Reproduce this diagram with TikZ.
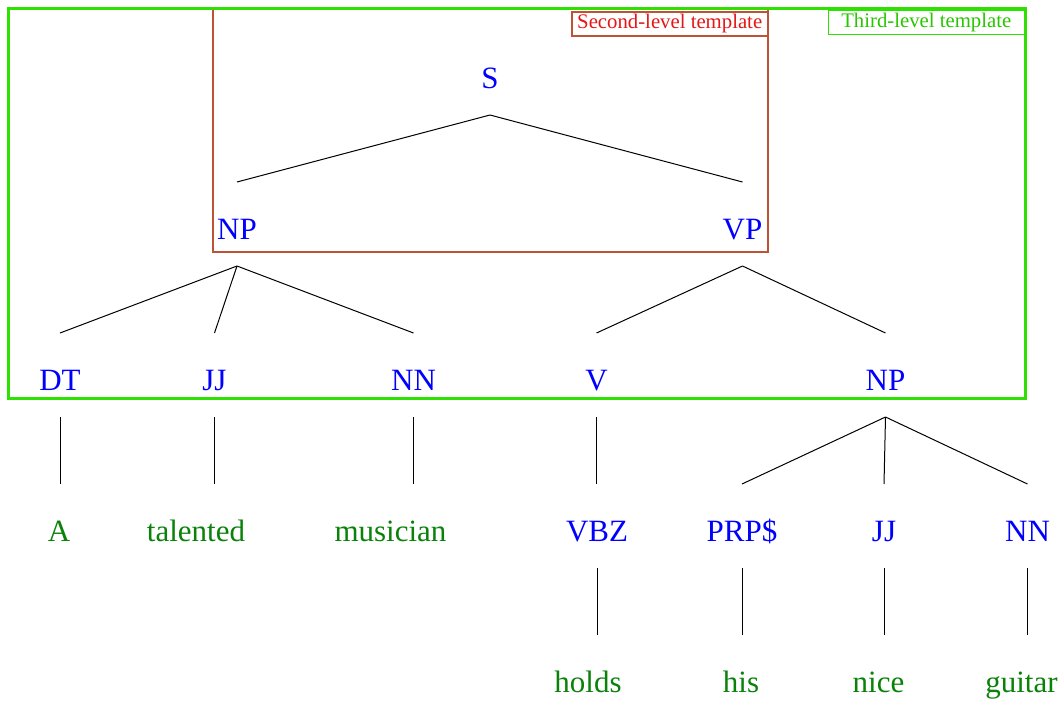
\documentclass[tikz,border=0pt]{standalone}
\usepackage{fontspec}
\setmainfont{Liberation Serif}
\usepackage{tikz}

\definecolor{tagblue}{RGB}{0,0,255}
\definecolor{wordgreen}{RGB}{10,130,10}
\definecolor{boxred}{RGB}{190,82,52}
\definecolor{labelred}{RGB}{228,22,22}
\definecolor{boxgreen}{RGB}{45,225,0}

\begin{document}
\begin{tikzpicture} [x=1pt,y=-1pt,
			tag/.style={text=tagblue,font=\fontsize{31}{36}\selectfont,anchor=base,inner sep=0pt,outer sep=0pt,text height=57pt,text depth=27pt},
			word/.style={tag,text=wordgreen},
			branch/.style={black,line width=1pt},
			label/.style={font=\fontsize{20.75}{24}\selectfont,minimum width=196pt,minimum height=24pt,inner sep=0pt,anchor=north east,line width=1.5pt}]
			\useasboundingbox (0,0) rectangle (1064,702);
			
			% templates
			\draw[boxred,line width=2pt] (212.5,9) rectangle (768,251.5);
			\draw[boxgreen,line width=3pt] (8.5,8.5) rectangle (1025.5,398.5);
			\node[label,draw=boxred,line width=2pt,text=labelred] (second) at (768.7,11) {Second-level template};
			\node[label,draw=boxgreen,text=boxgreen!88!black] (third) at (1025,9.5) {Third-level template};
			
			% tree
			\node[tag] (s) at (490,88) {S};
			\node[tag] (np) at (237,239) {NP};
			\node[tag] (vp) at (742.5,239) {VP};
			\node[tag] (dt) at (60,390) {DT};
			\node[tag] (jj) at (214.5,390) {JJ};
			\node[tag] (nn) at (413.5,390) {NN};
			\node[tag] (v) at (596.5,390) {V};
			\node[tag] (np2) at (885.5,390) {NP};
			\node[word] (a) at (59,541) {A};
			\node[word] (talented) at (196,541) {talented};
			\node[word] (musician) at (390.5,541) {musician};
			\node[tag] (vbz) at (597,541) {VBZ};
			\node[tag] (prp) at (742,541) {PRP\$};
			\node[tag] (jj2) at (884,541) {JJ};
			\node[tag] (nn2) at (1027.5,541) {NN};
			\node[word] (holds) at (588,692) {holds};
			\node[word] (his) at (741,692) {his};
			\node[word] (nice) at (878.5,692) {nice};
			\node[word] (guitar) at (1021.5,692) {guitar};
			
			\foreach \a/\b in {s/np,s/vp,np/dt,np/jj,np/nn,vp/v,vp/np2,np2/prp,np2/jj2,np2/nn2}
			\draw[branch] (\a.south) -- (\b.north);
			\foreach \a/\b in {dt/a,jj/talented,nn/musician,v/vbz,vbz/holds,prp/his,jj2/nice,nn2/guitar}
			\draw[branch] (\a.south) -- (\a.south |- \b.north);
			\end{tikzpicture}
\end{document}
